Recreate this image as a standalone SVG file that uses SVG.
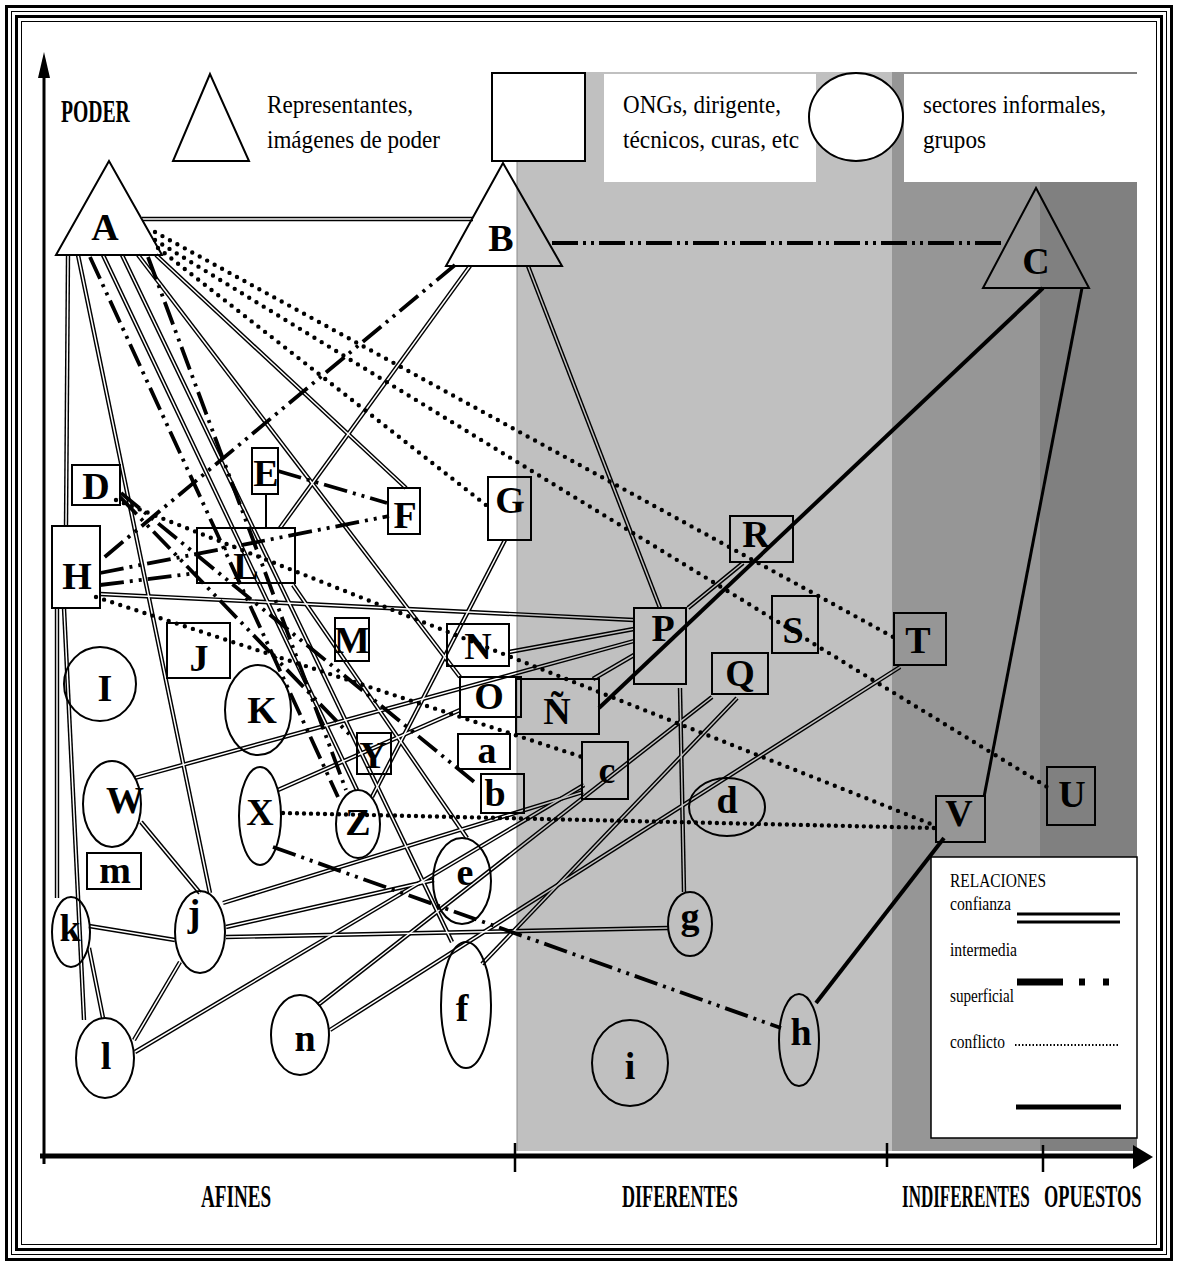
<svg xmlns="http://www.w3.org/2000/svg" width="1178" height="1266" viewBox="0 0 1178 1266">
<style>
.node{fill:none;stroke:#000;stroke-width:2}
.lbl{font-family:"Liberation Serif","Times New Roman",serif;font-weight:bold;font-size:38px;text-anchor:middle;fill:#000}
.leg{font-family:"Liberation Serif","Times New Roman",serif;font-size:26px;fill:#000}
.leg2{font-family:"Liberation Serif","Times New Roman",serif;font-size:18px;fill:#000}
.ax{font-family:"Liberation Serif","Times New Roman",serif;font-weight:bold;font-size:32px;fill:#000}
.sup{fill:none;stroke:#000;stroke-width:3.8;stroke-dasharray:24 6 3 6 3 6}
.con{fill:none;stroke:#000;stroke-width:4.4;stroke-dasharray:0 8.5;stroke-linecap:round}
.thick{fill:none;stroke:#000;stroke-width:4}
</style>
<defs>
<mask id="dlmask" maskUnits="userSpaceOnUse" x="0" y="0" width="1178" height="1266">
<rect width="1178" height="1266" fill="#fff"/>
<use href="#conf" stroke="#000" stroke-width="1.5"/>
</mask>
</defs>

<rect width="1178" height="1266" fill="#fff"/>

<!-- background zones -->
<g id="zones">
<rect x="517" y="72" width="375" height="1079" fill="#c0c0c0"/>
<rect x="892" y="72" width="148" height="1079" fill="#969696"/>
<rect x="1040" y="72" width="97" height="1079" fill="#808080"/>
<line x1="517" y1="72" x2="517" y2="1151" stroke="#8a8a8a" stroke-width="1"/>
<rect x="604" y="74" width="212" height="108" fill="#fff"/>
<rect x="904" y="74" width="233" height="108" fill="#fff"/>
</g>

<!-- frame -->
<g id="frame" fill="none" stroke="#000">
<rect x="6.5" y="6.5" width="1165" height="1253" stroke-width="3"/>
<rect x="11.5" y="11.5" width="1155" height="1243" stroke-width="1"/>
<rect x="16.5" y="16.5" width="1145" height="1233" stroke-width="3"/>
<rect x="21.5" y="21.5" width="1135" height="1223" stroke-width="1"/>
</g>

<!-- axes -->
<g id="axes">
<line x1="44" y1="70" x2="44" y2="1164" stroke="#000" stroke-width="3"/>
<polygon points="44,52 38,78 50,78" fill="#000"/>
<line x1="40" y1="1156" x2="1136" y2="1156" stroke="#000" stroke-width="5"/>
<polygon points="1153,1157 1133,1145 1133,1169" fill="#000"/>
<g stroke="#000" stroke-width="2.5">
<line x1="515" y1="1143" x2="515" y2="1172"/>
<line x1="887" y1="1143" x2="887" y2="1167"/>
<line x1="1043" y1="1145" x2="1043" y2="1172"/>
</g>
<text class="ax" transform="translate(61,122) scale(0.62,1)" x="0" y="0" textLength="111" lengthAdjust="spacingAndGlyphs">PODER</text>
<text class="ax" transform="translate(201,1207) scale(0.6,1)" x="0" y="0" textLength="117" lengthAdjust="spacingAndGlyphs">AFINES</text>
<text class="ax" transform="translate(622,1207) scale(0.57,1)" x="0" y="0" textLength="203" lengthAdjust="spacingAndGlyphs">DIFERENTES</text>
<text class="ax" transform="translate(902,1207) scale(0.53,1)" x="0" y="0" textLength="241" lengthAdjust="spacingAndGlyphs">INDIFERENTES</text>
<text class="ax" transform="translate(1044,1207) scale(0.57,1)" x="0" y="0" textLength="171" lengthAdjust="spacingAndGlyphs">OPUESTOS</text>
</g>

<!-- top legend -->
<g id="legend-shapes">
<polygon points="210,74 173,161 249,161" fill="#fff" stroke="#000" stroke-width="2"/>
<text class="leg" x="267" y="113" textLength="146" lengthAdjust="spacingAndGlyphs">Representantes,</text>
<text class="leg" x="267" y="148" textLength="173" lengthAdjust="spacingAndGlyphs">imágenes de poder</text>
<rect x="492" y="73" width="93" height="88" fill="#fff" stroke="#000" stroke-width="2"/>
<text class="leg" x="623" y="113" textLength="158" lengthAdjust="spacingAndGlyphs">ONGs, dirigente,</text>
<text class="leg" x="623" y="148" textLength="176" lengthAdjust="spacingAndGlyphs">técnicos, curas, etc</text>
<ellipse cx="856" cy="117" rx="47" ry="44" fill="#fff" stroke="#000" stroke-width="2"/>
<text class="leg" x="923" y="113" textLength="183" lengthAdjust="spacingAndGlyphs">sectores informales,</text>
<text class="leg" x="923" y="148" textLength="63" lengthAdjust="spacingAndGlyphs">grupos</text>
</g>

<!-- relations legend -->
<g id="legend-relations">
<rect x="931" y="857" width="206" height="281" fill="#fff" stroke="#000" stroke-width="1.5"/>
<text class="leg2" x="950" y="887" textLength="96" lengthAdjust="spacingAndGlyphs">RELACIONES</text>
<text class="leg2" x="950" y="910" textLength="61" lengthAdjust="spacingAndGlyphs">confianza</text>
<line x1="1017" y1="914" x2="1120" y2="914" stroke="#000" stroke-width="3"/>
<line x1="1017" y1="922" x2="1120" y2="922" stroke="#000" stroke-width="3"/>
<text class="leg2" x="950" y="956" textLength="67" lengthAdjust="spacingAndGlyphs">intermedia</text>
<line x1="1017" y1="982" x2="1110" y2="982" stroke="#000" stroke-width="7" stroke-dasharray="46 16 6 18 6"/>
<text class="leg2" x="950" y="1002" textLength="64" lengthAdjust="spacingAndGlyphs">superficial</text>
<text class="leg2" x="950" y="1048" textLength="55" lengthAdjust="spacingAndGlyphs">conflicto</text>
<line x1="1015" y1="1045" x2="1118" y2="1045" stroke="#000" stroke-width="2" stroke-dasharray="1.5 2"/>
<line x1="1016" y1="1107" x2="1121" y2="1107" stroke="#000" stroke-width="5"/>
</g>

<!-- connectors -->
<g id="connectors">
<g mask="url(#dlmask)" stroke="#000" stroke-width="4.4">
<g id="conf">
<line x1="142" y1="219" x2="473" y2="219"/>
<line x1="68" y1="255" x2="66" y2="526"/>
<line x1="78" y1="255" x2="210" y2="893"/>
<line x1="103" y1="255" x2="357" y2="790"/>
<line x1="122" y1="255" x2="452" y2="942"/>
<line x1="138" y1="255" x2="460" y2="677"/>
<line x1="156" y1="255" x2="406" y2="488"/>
<line x1="470" y1="266" x2="280" y2="528"/>
<line x1="528" y1="266" x2="660" y2="608"/>
<line x1="505" y1="540" x2="372" y2="797"/>
<line x1="57" y1="608" x2="57" y2="898"/>
<line x1="64" y1="608" x2="84" y2="1020"/>
<line x1="100" y1="594" x2="634" y2="620"/>
<line x1="509" y1="652" x2="634" y2="629"/>
<line x1="135" y1="778" x2="634" y2="641"/>
<line x1="593" y1="679" x2="634" y2="655"/>
<line x1="278" y1="790" x2="460" y2="710"/>
<line x1="688" y1="608" x2="743" y2="563"/>
<line x1="680" y1="688" x2="684" y2="892"/>
<line x1="293" y1="585" x2="467" y2="838"/>
<line x1="223" y1="903" x2="583" y2="792"/>
<line x1="226" y1="927" x2="434" y2="880"/>
<line x1="226" y1="937" x2="668" y2="928"/>
<line x1="89" y1="926" x2="175" y2="940"/>
<line x1="141" y1="822" x2="200" y2="893"/>
<line x1="134" y1="1040" x2="180" y2="962"/>
<line x1="89" y1="948" x2="103" y2="1018"/>
<line x1="135" y1="1052" x2="584" y2="785"/>
<line x1="318" y1="1005" x2="712" y2="697"/>
<line x1="330" y1="1030" x2="900" y2="667"/>
<line x1="737" y1="698" x2="482" y2="964"/>
</g>
</g>
<g id="superficial">
<line class="sup" x1="552" y1="243" x2="1005" y2="243" style="stroke-width:4;stroke-dasharray:26 5 3 5 3 5"/>
<line class="sup" x1="455" y1="265" x2="101" y2="560"/>
<line class="sup" x1="100" y1="573" x2="389" y2="516"/>
<line class="sup" x1="100" y1="585" x2="197" y2="573"/>
<line class="sup" x1="278" y1="471" x2="387" y2="503"/>
<line class="sup" x1="121" y1="493" x2="478" y2="785"/>
<line class="sup" x1="120" y1="497" x2="350" y2="735"/>
<line class="sup" x1="90" y1="257" x2="338" y2="797"/>
<line class="sup" x1="148" y1="257" x2="346" y2="790"/>
<line class="sup" x1="273" y1="847" x2="781" y2="1028"/>
</g>
<g id="conflicto">
<line class="con" x1="155" y1="232" x2="895" y2="638"/>
<line class="con" x1="155" y1="240" x2="1049" y2="788"/>
<line class="con" x1="158" y1="248" x2="486" y2="505"/>
<line class="con" x1="116" y1="500" x2="936" y2="826"/>
<line class="con" x1="96" y1="597" x2="582" y2="757"/>
<line class="con" x1="283" y1="813" x2="936" y2="828" style="stroke-dasharray:0 7"/>
</g>
<g id="solid">
<line class="thick" x1="1043" y1="288" x2="599" y2="708"/>
<line class="thick" x1="1082" y1="288" x2="984" y2="797" style="stroke-width:3"/>
<line class="thick" x1="944" y1="838" x2="816" y2="1003"/>
<line x1="266" y1="494" x2="266" y2="528" stroke="#000" stroke-width="2"/>
</g>
</g>

<!-- nodes -->
<g id="nodes">
<g id="node-A"><polygon class="node" points="109,161 56,255 162,255"/><text class="lbl" x="105" y="240">A</text></g>
<g id="node-B"><polygon class="node" points="503,163 446,266 562,266"/><text class="lbl" x="501" y="251">B</text></g>
<g id="node-C"><polygon class="node" points="1036,188 983,288 1089,288"/><text class="lbl" x="1036" y="274">C</text></g>

<g id="node-D"><rect class="node" x="72" y="465" width="48" height="40"/><text class="lbl" x="96" y="499">D</text></g>
<g id="node-E"><rect class="node" x="252" y="448" width="26" height="46"/><text class="lbl" x="266" y="486">E</text></g>
<g id="node-F"><rect class="node" x="388" y="488" width="32" height="46"/><text class="lbl" x="405" y="528">F</text></g>
<g id="node-G"><rect class="node" x="488" y="477" width="43" height="63"/><text class="lbl" x="510" y="513">G</text></g>
<g id="node-H"><rect class="node" x="52" y="526" width="48" height="82"/><text class="lbl" x="77" y="589">H</text></g>
<g id="node-J"><rect class="node" x="167" y="623" width="63" height="55"/><text class="lbl" x="199" y="671">J</text></g>
<g id="node-L"><rect class="node" x="197" y="528" width="98" height="55"/><text class="lbl" x="246" y="579">L</text></g>
<g id="node-M"><rect class="node" x="335" y="618" width="34" height="43"/><text class="lbl" x="352" y="653">M</text></g>
<g id="node-N"><rect class="node" x="447" y="624" width="62" height="42"/><text class="lbl" x="478" y="659">N</text></g>
<g id="node-O"><rect class="node" x="460" y="677" width="61" height="40"/><text class="lbl" x="489" y="709">O</text></g>
<g id="node-Ntilde"><rect class="node" x="516" y="679" width="83" height="55"/><text class="lbl" x="557" y="724">Ñ</text></g>
<g id="node-P"><rect class="node" x="634" y="608" width="52" height="76"/><text class="lbl" x="663" y="641">P</text></g>
<g id="node-Q"><rect class="node" x="712" y="653" width="56" height="41"/><text class="lbl" x="740" y="686">Q</text></g>
<g id="node-R"><rect class="node" x="730" y="516" width="63" height="46"/><text class="lbl" x="756" y="547">R</text></g>
<g id="node-S"><rect class="node" x="772" y="596" width="46" height="57"/><text class="lbl" x="793" y="643">S</text></g>
<g id="node-T"><rect class="node" x="894" y="613" width="52" height="52"/><text class="lbl" x="918" y="653">T</text></g>
<g id="node-U"><rect class="node" x="1047" y="767" width="48" height="58"/><text class="lbl" x="1072" y="807">U</text></g>
<g id="node-V"><rect class="node" x="936" y="796" width="49" height="46"/><text class="lbl" x="959" y="826">V</text></g>
<g id="node-Y"><rect class="node" x="357" y="733" width="34" height="41"/><text class="lbl" x="373" y="768">Y</text></g>
<g id="node-a"><rect class="node" x="458" y="734" width="52" height="35"/><text class="lbl" x="487" y="763">a</text></g>
<g id="node-b"><rect class="node" x="481" y="774" width="43" height="39"/><text class="lbl" x="495" y="806">b</text></g>
<g id="node-c"><rect class="node" x="582" y="742" width="46" height="57"/><text class="lbl" x="607" y="783">c</text></g>
<g id="node-m"><rect class="node" x="87" y="853" width="54" height="36"/><text class="lbl" x="115" y="883">m</text></g>

<g id="node-I"><ellipse class="node" cx="100" cy="684" rx="36" ry="37"/><text class="lbl" x="105" y="701">I</text></g>
<g id="node-K"><ellipse class="node" cx="258" cy="710" rx="33" ry="45"/><text class="lbl" x="262" y="723">K</text></g>
<g id="node-W"><ellipse class="node" cx="112" cy="804" rx="29" ry="43"/><text class="lbl" x="125" y="813">W</text></g>
<g id="node-X"><ellipse class="node" cx="260" cy="816" rx="21" ry="49"/><text class="lbl" x="260" y="825">X</text></g>
<g id="node-Z"><ellipse class="node" cx="358" cy="824" rx="22" ry="34"/><text class="lbl" x="358" y="835">Z</text></g>
<g id="node-d"><ellipse class="node" cx="727" cy="807" rx="38" ry="29"/><text class="lbl" x="727" y="813">d</text></g>
<g id="node-e"><ellipse class="node" cx="462" cy="881" rx="29" ry="43"/><text class="lbl" x="465" y="885">e</text></g>
<g id="node-f"><ellipse class="node" cx="466" cy="1005" rx="25" ry="63"/><text class="lbl" x="462" y="1021">f</text></g>
<g id="node-g"><ellipse class="node" cx="690" cy="924" rx="22" ry="32"/><text class="lbl" x="690" y="929">g</text></g>
<g id="node-h"><ellipse class="node" cx="799" cy="1040" rx="20" ry="46"/><text class="lbl" x="801" y="1045">h</text></g>
<g id="node-i"><ellipse class="node" cx="630" cy="1063" rx="38" ry="43"/><text class="lbl" x="630" y="1079">i</text></g>
<g id="node-j"><ellipse class="node" cx="200" cy="932" rx="25" ry="41"/><text class="lbl" x="194" y="926">j</text></g>
<g id="node-k"><ellipse class="node" cx="71" cy="932" rx="19" ry="35"/><text class="lbl" x="70" y="941">k</text></g>
<g id="node-l"><ellipse class="node" cx="105" cy="1058" rx="29" ry="40"/><text class="lbl" x="106" y="1069">l</text></g>
<g id="node-n"><ellipse class="node" cx="300" cy="1035" rx="29" ry="40"/><text class="lbl" x="305" y="1051">n</text></g>
</g>
</svg>
